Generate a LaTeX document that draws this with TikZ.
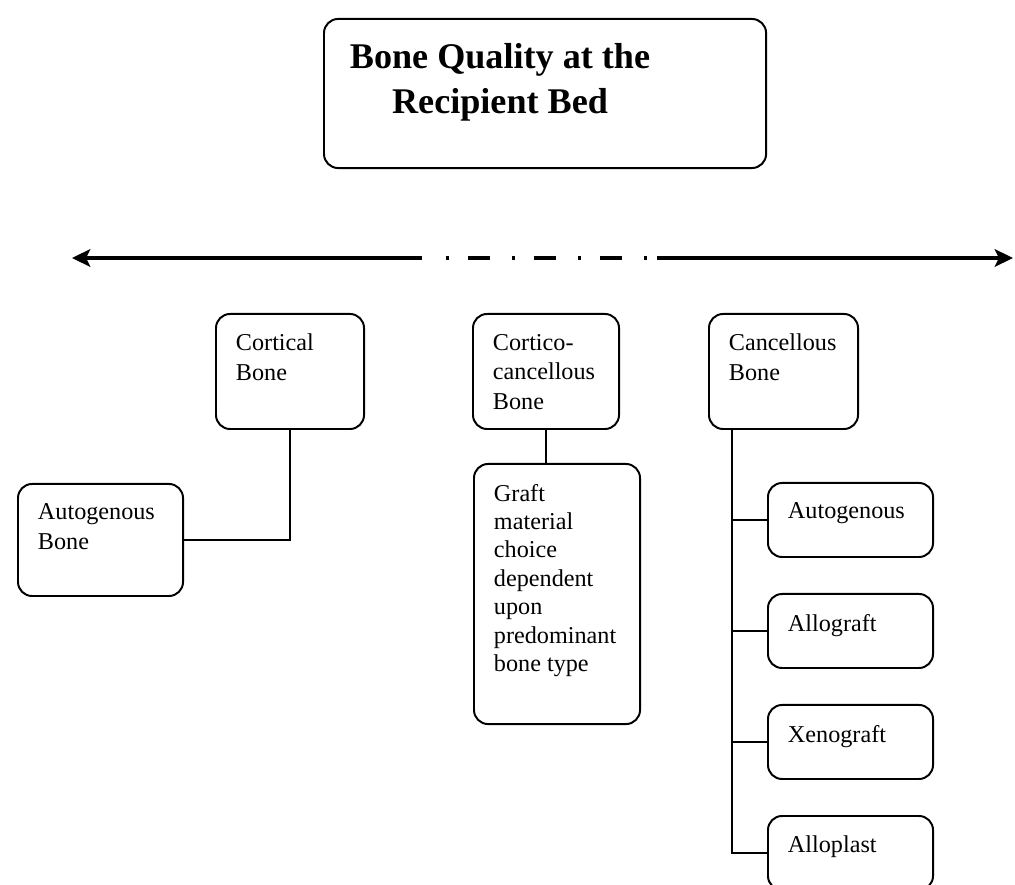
\documentclass[tikz,border=0pt]{standalone}
\usepackage{fontspec}
\setmainfont{Liberation Serif}
\usetikzlibrary{arrows.meta}

\newcommand{\boxtext}[3]{\parbox[t][#2][t]{#1}{\raggedright #3}}

\tikzset{
  bonebox/.style={draw, line width=1.4pt, rounded corners=10pt, anchor=north west,
    inner xsep=0.5cm, inner ysep=0.5cm, font=\fontsize{17.2}{21.3}\selectfont},
  link/.style={line width=1.4pt},
  axis/.style={line width=3pt},
}

\begin{document}
\begin{tikzpicture}[x=0.025cm, y=-0.025cm]
    \clip (0,0) rectangle (1015,885);
    \fill[white] (0,0) rectangle (1015,885);

    \node[bonebox, inner xsep=0.55cm, inner ysep=0.6cm, font=\fontsize{25.7}{32}\selectfont\bfseries] (title) at (323,18)
      {\boxtext{9.95cm}{2.525cm}{\parbox[t]{7.7cm}{\centering Bone Quality at the\\ Recipient Bed}}};

    % scale line
    \coordinate (lend) at (72,258);
    \coordinate (ldash) at (422,258);
    \coordinate (dashA) at (446,258);
    \coordinate (dashB) at (650,258);
    \coordinate (rdash) at (657,258);
    \coordinate (rend) at (1013,258);
    \draw[axis, {Stealth[length=13pt, width=12.5pt, inset=3pt]}-] (lend) -- (ldash);
    \draw[axis, dash pattern=on 2.4pt off 13.3pt on 15.6pt off 15.6pt] (dashA) -- (dashB);
    \draw[axis, -{Stealth[length=13pt, width=12.5pt, inset=3pt]}] (rdash) -- (rend);

    \node[bonebox] (cortical) at (215,313) {\boxtext{2.7cm}{1.875cm}{Cortical\\ Bone}};
    \node[bonebox] (cortico) at (472,313) {\boxtext{2.65cm}{1.875cm}{Cortico-\\ cancellous\\ Bone}};
    \node[bonebox] (cancel) at (708,313) {\boxtext{2.725cm}{1.875cm}{Cancellous\\ Bone}};
    \node[bonebox] (autobone) at (17,483) {\boxtext{3.125cm}{1.8cm}{Autogenous\\ Bone}};
    \node[bonebox, font=\fontsize{17.2}{20.2}\selectfont] (graft) at (473,463)
      {\boxtext{3.15cm}{5.5cm}{Graft\\ material\\ choice\\ dependent\\ upon\\ predominant\\ bone type}};
    \node[bonebox] (auto) at (767,482) {\boxtext{3.125cm}{0.85cm}{Autogenous}};
    \node[bonebox] (allo) at (767,593) {\boxtext{3.125cm}{0.85cm}{Allograft}};
    \node[bonebox] (xeno) at (767,704) {\boxtext{3.125cm}{0.85cm}{Xenograft}};
    \node[bonebox] (allop) at (767,815) {\boxtext{3.125cm}{0.85cm}{Alloplast}};

    \draw[link] (cortical.south) |- (autobone.east);
    \draw[link] (cortico.south) -- (cortico.south |- graft.north);
    \path (cancel.south west) ++(24,0) coordinate (trunk);
    \draw[link] (trunk) -- (trunk |- allop.west) -- (allop.west);
    \foreach \n in {auto, allo, xeno}
        \draw[link] (trunk |- \n.west) -- (\n.west);
\end{tikzpicture}
\end{document}
